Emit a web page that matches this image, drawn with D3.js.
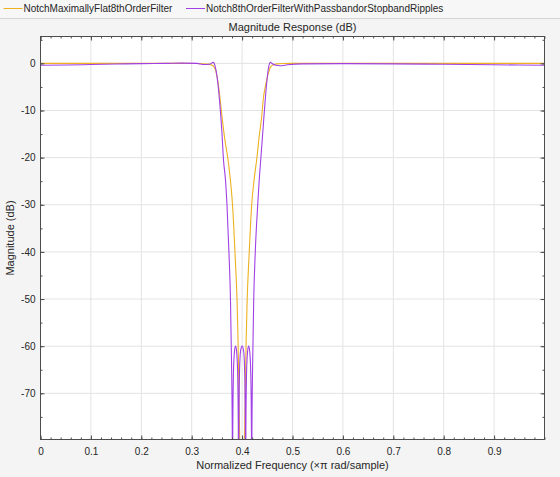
<!DOCTYPE html>
<html>
<head>
<meta charset="utf-8">
<script src="https://cdn.jsdelivr.net/npm/d3@7"></script>
<style>
  body { margin: 0; background: #f4f4f4; }
  svg { display: block; font-family: "Liberation Sans", Arial, sans-serif; }
</style>
</head>
<body>
<svg id="chart" width="560" height="477"></svg>
<script>
// legend names
const seriesNames = ["NotchMaximallyFlat8thOrderFilter", "Notch8thOrderFilterWithPassbandorStopbandRipples"]
const seriesColors = ["#edb120", "#a040e6"]

// normalized frequency (x pi rad/sample) and magnitude (dB)
const flatFreq = [0, 0.1, 0.2, 0.28, 0.31, 0.33, 0.338, 0.343, 0.348, 0.352, 0.356, 0.36, 0.365, 0.372, 0.377, 0.381, 0.386, 0.39, 0.392, 0.3953, 0.4, 0.4047, 0.408, 0.41, 0.414, 0.419, 0.424, 0.429, 0.434, 0.439, 0.442, 0.446, 0.449, 0.453, 0.456, 0.462, 0.47, 0.48, 0.5, 0.6, 0.8, 1.0]
const flatMag  = [0, 0, 0, 0, -0.02, -0.15, -0.3, -0.6, -1.7, -3.8, -7.2, -11.2, -15.6, -20.4, -25, -30, -40.4, -50.4, -59, -80, -130, -80, -59, -50.4, -40.4, -30, -24.5, -20.4, -15.4, -11.2, -7.6, -5, -3.4, -1.8, -0.85, -0.3, -0.1, -0.03, 0, 0, 0, 0]

const rippleFreq = [0, 0.05, 0.1, 0.15, 0.2, 0.25, 0.28, 0.31, 0.325, 0.335, 0.343, 0.347, 0.35, 0.355, 0.36, 0.363, 0.367, 0.37, 0.374, 0.377, 0.3785,
  0.3805, 0.381, 0.3815, 0.383, 0.385, 0.387, 0.389, 0.391, 0.3925, 0.393, 0.3935, 0.395, 0.397, 0.4, 0.403, 0.405, 0.4065, 0.407, 0.4075, 0.409, 0.411, 0.413, 0.415, 0.417, 0.4185, 0.419, 0.4195, 0.4215,
  0.423, 0.426, 0.431, 0.434, 0.437, 0.441, 0.446, 0.452, 0.456, 0.46, 0.467, 0.475, 0.49, 0.52, 0.6, 0.7, 0.8, 0.9, 1.0]
const rippleMag = [-0.4, -0.35, -0.25, -0.15, -0.05, 0, 0.05, 0, -0.25, -0.2, 0.2, -0.85, -2.6, -7.6, -14.7, -20.4, -24.7, -30, -40.4, -50.4, -60,
  -78, -130, -78, -65, -61, -60, -61, -65, -78, -130, -78, -65, -61, -60, -61, -65, -78, -130, -78, -65, -61, -60, -61, -65, -78, -130, -78, -60,
  -50.4, -40.4, -30, -24.7, -20.4, -14.7, -7.6, -1.2, 0.2, -0.1, -0.4, -0.5, -0.3, -0.1, -0.05, -0.1, -0.2, -0.3, -0.4]

// axis ticks
const xTicks = [0, 0.1, 0.2, 0.3, 0.4, 0.5, 0.6, 0.7, 0.8, 0.9]
const yTicks = [0, -10, -20, -30, -40, -50, -60, -70]

const svg = d3.select("#chart")
const pLeft = 40.5, pRight = 544.5, pTop = 36.5, pBottom = 439.5

const x = d3.scaleLinear().domain([0, 1]).range([pLeft, pRight])
const y = d3.scaleLinear().domain([-79.8, 5.7]).range([pBottom, pTop])

// legend strip
svg.append("rect").attr("x", 0).attr("y", 0).attr("width", 560).attr("height", 18.5).attr("fill", "#f7f7f7")
svg.append("line").attr("x1", 0).attr("x2", 560).attr("y1", 18.5).attr("y2", 18.5).attr("stroke", "#d4d4d4")
const legendX = [3.5, 186]
seriesNames.forEach((name, i) => {
  svg.append("line").attr("x1", legendX[i]).attr("x2", legendX[i] + 19).attr("y1", 8.5).attr("y2", 8.5)
    .attr("stroke", seriesColors[i]).attr("stroke-width", 1)
  svg.append("text").attr("x", legendX[i] + 20).attr("y", 12).attr("font-size", 10).attr("fill", "#262626").text(name)
})

// plot area
svg.append("rect").attr("x", pLeft).attr("y", pTop).attr("width", pRight - pLeft).attr("height", pBottom - pTop).attr("fill", "white")

// grid
svg.selectAll(".vgrid").data(xTicks).join("line").attr("class", "vgrid")
  .attr("x1", d => x(d)).attr("x2", d => x(d)).attr("y1", pTop).attr("y2", pBottom)
  .attr("stroke", "#e3e3e3").attr("stroke-width", 1)
svg.selectAll(".hgrid").data(yTicks).join("line").attr("class", "hgrid")
  .attr("x1", pLeft).attr("x2", pRight).attr("y1", d => y(d)).attr("y2", d => y(d))
  .attr("stroke", "#e3e3e3").attr("stroke-width", 1)

// curves
svg.append("clipPath").attr("id", "clip").append("rect")
  .attr("x", pLeft).attr("y", pTop).attr("width", pRight - pLeft).attr("height", pBottom - pTop)
const line = d3.line().x(d => x(d[0])).y(d => y(d[1])).curve(d3.curveMonotoneX)
const curves = [d3.zip(flatFreq, flatMag), d3.zip(rippleFreq, rippleMag)]
svg.append("g").attr("clip-path", "url(#clip)").selectAll("path").data(curves).join("path")
  .attr("d", line).attr("fill", "none").attr("stroke", (d, i) => seriesColors[i]).attr("stroke-width", 1.1)

// axes (ticks point inward)
const xMinor = d3.range(0, 51).map(i => i / 50)
const yMinor = d3.range(-75, 6, 5)
function styleAxis(g) {
  g.select(".domain").remove()
  g.selectAll("line").attr("stroke", "#4d4d4d")
  g.selectAll("text").attr("fill", "#262626").attr("font-size", 10).attr("font-family", "Liberation Sans, Arial, sans-serif")
}
svg.append("g").attr("transform", `translate(0,${pBottom})`)
  .call(d3.axisBottom(x).tickValues(xTicks).tickSize(-4).tickPadding(8).tickFormat(d => String(d))).call(styleAxis)
svg.append("g").attr("transform", `translate(0,${pBottom})`)
  .call(d3.axisBottom(x).tickValues(xMinor).tickSize(-2).tickFormat("")).call(styleAxis)
svg.append("g").attr("transform", `translate(0,${pTop})`)
  .call(d3.axisTop(x).tickValues(xTicks).tickSize(-4).tickFormat("")).call(styleAxis)
svg.append("g").attr("transform", `translate(0,${pTop})`)
  .call(d3.axisTop(x).tickValues(xMinor).tickSize(-2).tickFormat("")).call(styleAxis)
svg.append("g").attr("transform", `translate(${pLeft},0)`)
  .call(d3.axisLeft(y).tickValues(yTicks).tickSize(-4).tickPadding(5).tickFormat(d => String(d))).call(styleAxis)
svg.append("g").attr("transform", `translate(${pLeft},0)`)
  .call(d3.axisLeft(y).tickValues(yMinor).tickSize(-2).tickFormat("")).call(styleAxis)
svg.append("g").attr("transform", `translate(${pRight},0)`)
  .call(d3.axisRight(y).tickValues(yTicks).tickSize(-4).tickFormat("")).call(styleAxis)
svg.append("g").attr("transform", `translate(${pRight},0)`)
  .call(d3.axisRight(y).tickValues(yMinor).tickSize(-2).tickFormat("")).call(styleAxis)

// box
svg.append("rect").attr("x", pLeft).attr("y", pTop).attr("width", pRight - pLeft).attr("height", pBottom - pTop)
  .attr("fill", "none").attr("stroke", "#4d4d4d").attr("stroke-width", 1)

// titles
svg.append("text").attr("x", (pLeft + pRight) / 2).attr("y", 31).attr("text-anchor", "middle")
  .attr("font-size", 11).attr("fill", "#262626").text("Magnitude Response (dB)")
svg.append("text").attr("x", (pLeft + pRight) / 2).attr("y", 469).attr("text-anchor", "middle")
  .attr("font-size", 11).attr("fill", "#262626").text("Normalized Frequency (×π rad/sample)")
svg.append("text").attr("transform", `translate(14,${(pTop + pBottom) / 2}) rotate(-90)`).attr("text-anchor", "middle")
  .attr("font-size", 11).attr("fill", "#262626").text("Magnitude (dB)")
</script>
</body>
</html>
